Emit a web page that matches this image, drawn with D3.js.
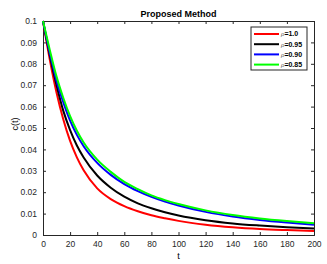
<!DOCTYPE html>
<html>
<head>
<meta charset="utf-8">
<script src="https://cdn.jsdelivr.net/npm/d3@7"></script>
<style>
  body { margin: 0; background: #fff; }
  text { font-family: "Liberation Sans", Arial, sans-serif; }
</style>
</head>
<body>
<div id="chart"></div>
<script>
var margin = {left: 43, top: 21, right: 13, bottom: 29},
    width = 327 - margin.left - margin.right,
    height = 264 - margin.top - margin.bottom;

// values
var tValues = [0, 5, 10, 15, 20, 25, 30, 40, 50, 60, 70, 80, 90, 100, 120, 140, 160, 180, 200];
var rho100 = [0.1, 0.082, 0.0665, 0.054, 0.044, 0.0363, 0.0302, 0.0218, 0.0168, 0.0135, 0.0111, 0.0092, 0.0078, 0.0066, 0.0048, 0.0036, 0.0028, 0.0023, 0.0019];
var rho095 = [0.1, 0.084, 0.07, 0.058, 0.049, 0.0418, 0.0362, 0.0278, 0.0221, 0.0179, 0.0148, 0.0125, 0.0106, 0.0091, 0.0069, 0.0054, 0.0044, 0.0036, 0.003];
var rho090 = [0.1, 0.085, 0.072, 0.062, 0.0535, 0.0468, 0.0415, 0.0337, 0.0281, 0.0238, 0.0205, 0.0178, 0.0156, 0.0138, 0.0108, 0.0086, 0.007, 0.0058, 0.0048];
var rho085 = [0.1, 0.0865, 0.074, 0.064, 0.0555, 0.0487, 0.0432, 0.0352, 0.0295, 0.0248, 0.0214, 0.0185, 0.0163, 0.0145, 0.0115, 0.0093, 0.0077, 0.0065, 0.0055];

var seriesNames = ['=1.0', '=0.95', '=0.90', '=0.85'];
var seriesColors = ['#ff0000', '#000000', '#0000ff', '#00ff00'];
var xTicks = [0, 20, 40, 60, 80, 100, 120, 140, 160, 180, 200];
var yTicks = [0, 0.01, 0.02, 0.03, 0.04, 0.05, 0.06, 0.07, 0.08, 0.09, 0.1];

var series = [rho100, rho095, rho090, rho085].map(function(vals, i) {
    return {name: seriesNames[i], color: seriesColors[i],
            points: vals.map(function(v, j) { return {t: tValues[j], c: v}; })};
});

var x = d3.scaleLinear().domain([0, 200]).range([0, width]);
var y = d3.scaleLinear().domain([0, 0.1]).range([height, 0]);

var svg = d3.select("#chart").append("svg")
    .attr("width", width + margin.left + margin.right)
    .attr("height", height + margin.top + margin.bottom);

var g = svg.append("g")
    .attr("transform", "translate(" + margin.left + "," + margin.top + ")");

var axisColor = "#262626";

// axes with inward ticks
var xAxis = g.append("g")
    .attr("transform", "translate(0," + height + ")")
    .call(d3.axisBottom(x).tickValues(xTicks).tickSize(-3).tickPadding(6)
          .tickFormat(d3.format("d")));
var xTop = g.append("g")
    .call(d3.axisTop(x).tickValues(xTicks).tickSize(-3).tickFormat(""));
var yAxis = g.append("g")
    .call(d3.axisLeft(y).tickValues(yTicks).tickSize(-3).tickPadding(6)
          .tickFormat(function(d) { return d === 0 ? "0" : d3.format(".2~f")(d); }));
var yRight = g.append("g")
    .attr("transform", "translate(" + width + ",0)")
    .call(d3.axisRight(y).tickValues(yTicks).tickSize(-3).tickFormat(""));

[xAxis, xTop, yAxis, yRight].forEach(function(a) {
    a.select(".domain").attr("stroke", axisColor).attr("stroke-width", 1);
    a.selectAll(".tick line").attr("stroke", axisColor);
    a.selectAll(".tick text").attr("fill", "#262626")
        .style("font-size", "8.5px").style("font-family", "'Liberation Sans', Arial, sans-serif");
});

var line = d3.line()
    .x(function(d) { return x(d.t); })
    .y(function(d) { return y(d.c); })
    .curve(d3.curveMonotoneX);

g.selectAll("path.curve")
    .data(series)
    .enter().append("path")
    .attr("class", "curve")
    .attr("fill", "none")
    .attr("stroke", function(d) { return d.color; })
    .attr("stroke-width", 2)
    .attr("d", function(d) { return line(d.points); });

// title and axis labels
svg.append("text")
    .attr("x", margin.left + width / 2)
    .attr("y", 17)
    .attr("text-anchor", "middle")
    .style("font-size", "9px")
    .style("font-weight", "bold")
    .text("Proposed Method");

svg.append("text")
    .attr("x", margin.left + width / 2)
    .attr("y", 259)
    .attr("text-anchor", "middle")
    .style("font-size", "9px")
    .text("t");

svg.append("text")
    .attr("transform", "translate(18,124) rotate(-90)")
    .attr("text-anchor", "middle")
    .style("font-size", "9px")
    .text("c(t)");

// legend
var legend = svg.append("g").attr("transform", "translate(251,27)");
legend.append("rect")
    .attr("width", 56).attr("height", 43)
    .attr("fill", "#fff").attr("stroke", axisColor).attr("stroke-width", 1);

var items = legend.selectAll("g.item")
    .data(series)
    .enter().append("g")
    .attr("class", "item")
    .attr("transform", function(d, i) { return "translate(0," + (7 + i * 10.2) + ")"; });

items.append("line")
    .attr("x1", 3).attr("x2", 28)
    .attr("stroke", function(d) { return d.color; })
    .attr("stroke-width", 2);

var label = items.append("text")
    .attr("x", 30).attr("dy", "0.35em")
    .style("font-size", "7px");
label.append("tspan")
    .style("font-family", "'Liberation Serif', serif")
    .style("font-style", "italic")
    .attr("fill", "#666")
    .text("\u03C1");
label.append("tspan")
    .style("font-weight", "bold")
    .text(function(d) { return d.name; });
</script>
</body>
</html>
